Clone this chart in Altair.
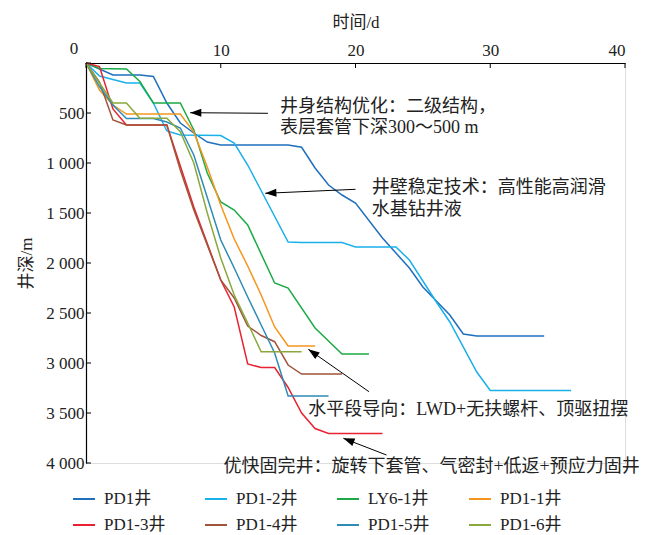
import altair as alt
import pandas as pd

# ---- data ----
wells = ["PD1井", "PD1-2井", "LY6-1井", "PD1-1井", "PD1-3井", "PD1-4井", "PD1-5井", "PD1-6井"]
colors = ["#1f6fbd", "#1ab0ea", "#1aab46", "#f5961c", "#e82230", "#a0553a", "#2e8cb6", "#8aa83c"]

pd1_day = [0, 2, 4, 5, 6, 7, 8, 9, 10, 15, 16, 17, 18, 19, 20, 22, 24, 25, 27, 28, 29, 34]
pd1_dep = [0, 120, 120, 135, 400, 600, 700, 790, 820, 820, 843, 1050, 1220, 1320, 1400, 1750, 2050, 2240, 2520, 2710, 2730, 2730]

pd12_day = [0, 1, 3, 4, 5, 6, 7, 10, 11, 12, 15, 16, 19, 20, 23, 24, 26, 27, 29, 30, 36]
pd12_dep = [0, 130, 200, 200, 400, 680, 720, 725, 800, 1020, 1790, 1795, 1795, 1840, 1840, 1970, 2390, 2590, 3090, 3275, 3275]

ly61_day = [0, 1, 3, 4, 5, 7, 8, 9, 10, 11, 12, 14, 15, 17, 19, 21]
ly61_dep = [0, 55, 60, 185, 400, 400, 670, 1100, 1390, 1470, 1620, 2200, 2250, 2650, 2910, 2910]

pd11_day = [0, 1, 2, 3, 7, 8, 9, 10, 11, 12, 13, 14, 15, 17]
pd11_dep = [0, 270, 420, 510, 510, 690, 1040, 1420, 1760, 2030, 2320, 2640, 2830, 2830]

pd13_day = [0, 1, 2, 3, 6, 7, 8, 10, 11, 12, 13, 14, 15, 16, 17, 18, 22]
pd13_dep = [0, 35, 460, 620, 620, 1030, 1440, 2170, 2440, 3010, 3045, 3045, 3245, 3500, 3655, 3705, 3705]

pd14_day = [0, 1, 2, 3, 6, 7, 8, 10, 11, 12, 13, 14, 15, 16, 19]
pd14_dep = [0, 190, 570, 620, 620, 1070, 1470, 2170, 2350, 2630, 2725, 2787, 3020, 3110, 3110]

pd15_day = [0, 1, 2, 3, 5, 6, 7, 8, 10, 11, 12, 13, 14, 15, 18]
pd15_dep = [0, 235, 420, 555, 555, 590, 650, 920, 1770, 2050, 2340, 2620, 2900, 3330, 3330]

pd16_day = [0, 1, 2, 3, 4, 6, 7, 8, 9, 10, 11, 12, 13, 16]
pd16_dep = [0, 200, 400, 400, 553, 553, 687, 1000, 1500, 1950, 2320, 2600, 2887, 2887]

series_days = [pd1_day, pd12_day, ly61_day, pd11_day, pd13_day, pd14_day, pd15_day, pd16_day]
series_deps = [pd1_dep, pd12_dep, ly61_dep, pd11_dep, pd13_dep, pd14_dep, pd15_dep, pd16_dep]

x_ticks = [0, 10, 20, 30, 40]
y_ticks = [0, 500, 1000, 1500, 2000, 2500, 3000, 3500, 4000]

# annotations: text lines (day, depth, text)
ann_day = [14.4, 14.4, 21.2, 21.2, 16.5, 10.2]
ann_dep = [437, 653, 1253, 1470, 3470, 4037]
ann_text = ["井身结构优化：二级结构，", "表层套管下深300～500 m",
            "井壁稳定技术：高性能高润滑", "水基钻井液",
            "水平段导向：LWD+无扶螺杆、顶驱扭摆",
            "优快固完井：旋转下套管、气密封+低返+预应力固井"]

# arrows: tail -> head (day, depth) and head angle
arr_tail_day = [13.5, 20.0, 21.0, 22.3]
arr_tail_dep = [503, 1263, 3287, 3920]
arr_head_day = [7.73, 13.3, 16.5, 19.1]
arr_head_dep = [497, 1303, 2863, 3753]
arr_angle = [270, 267, 305, 291]

# ---- tables ----
rows = []
for w, ds, vs in zip(wells, series_days, series_deps):
    for d, v in zip(ds, vs):
        rows.append({"well": w, "day": d, "depth": v})
df = pd.DataFrame(rows)

ann_df = pd.DataFrame({"day": ann_day, "depth": ann_dep, "text": ann_text})
arr_df = pd.DataFrame({"day": arr_tail_day, "depth": arr_tail_dep,
                       "hday": arr_head_day, "hdep": arr_head_dep, "angle": arr_angle})
xt_df = pd.DataFrame({"t": x_ticks})
yt_df = pd.DataFrame({"t": y_ticks})

FONT = "'Liberation Serif', 'Noto Sans CJK SC'"

xscale = alt.Scale(domain=[0, 40], nice=False)
yscale = alt.Scale(domain=[0, 4000], reverse=True, nice=False)

xaxis = alt.Axis(orient="top", values=x_ticks, title="时间/d", ticks=False, grid=False,
                 domainColor="black", domainWidth=1.2, labelFont=FONT, labelFontSize=17,
                 labelColor="#222222", labelPadding=4, titleFont=FONT, titleFontSize=17,
                 titleFontWeight="normal", titleColor="#222222", titlePadding=10,
                 labelExpr="datum.value == 0 ? '' : datum.label")
yaxis = alt.Axis(values=y_ticks, title="井深/m", ticks=False, grid=False,
                 domainColor="black", domainWidth=1.2, labelFont=FONT, labelFontSize=17,
                 labelColor="#222222", labelPadding=2, titleFont=FONT, titleFontSize=17,
                 titleFontWeight="normal", titleColor="#222222", titlePadding=10,
                 labelExpr="datum.value == 0 ? '' : replace(format(datum.value, ','), ',', ' ')")

lines = alt.Chart(df).mark_line(strokeWidth=1.5).encode(
    x=alt.X("day:Q", scale=xscale, axis=xaxis),
    y=alt.Y("depth:Q", scale=yscale, axis=yaxis),
    color=alt.Color("well:N", scale=alt.Scale(domain=wells, range=colors), sort=wells,
                    legend=alt.Legend(title=None, orient="none", legendX=-14, legendY=424,
                                      direction="horizontal", columns=4, gridAlign="all",
                                      columnPadding=35, rowPadding=6, symbolType="stroke",
                                      symbolSize=484, symbolStrokeWidth=2, labelOffset=8,
                                      labelFont=FONT, labelFontSize=17, labelColor="#222222",
                                      labelLimit=200)),
    order="day:Q",
)

origin_label = alt.Chart(pd.DataFrame({"t": [0]})).mark_text(
    font=FONT, fontSize=17, color="#222222", align="center", baseline="bottom", dx=-12, dy=-5
).encode(x=alt.X("t:Q", scale=xscale), y=alt.value(0), text=alt.Text("t:Q"))

xticks = alt.Chart(xt_df).mark_rule(color="black", strokeWidth=1).encode(
    x=alt.X("t:Q", scale=xscale), y=alt.value(0), y2=alt.value(5))
yticks = alt.Chart(yt_df).mark_rule(color="black", strokeWidth=1).encode(
    y=alt.Y("t:Q", scale=yscale), x=alt.value(0), x2=alt.value(5))

texts = alt.Chart(ann_df).mark_text(
    font=FONT, fontSize=18, color="#222222", align="left", baseline="middle"
).encode(x=alt.X("day:Q", scale=xscale), y=alt.Y("depth:Q", scale=yscale), text="text:N")

arrow_lines = alt.Chart(arr_df).mark_rule(color="black", strokeWidth=1).encode(
    x=alt.X("day:Q", scale=xscale), y=alt.Y("depth:Q", scale=yscale),
    x2="hday:Q", y2="hdep:Q")

arrow_heads = alt.Chart(arr_df).mark_point(
    shape="M0,0 L0.36,1 L-0.36,1 Z", filled=True, color="black", opacity=1, size=500
).encode(x=alt.X("hday:Q", scale=xscale), y=alt.Y("hdep:Q", scale=yscale),
         angle=alt.Angle("angle:Q", scale=None))

chart = alt.layer(lines, xticks, yticks, origin_label, texts, arrow_lines, arrow_heads).properties(
    width=539, height=400,
    autosize=alt.AutoSizeParams(type="none"),
    padding={"left": 78, "top": 55, "right": 21, "bottom": 72},
).configure_view(stroke=None).configure(background="white")

chart.save("out.html", embed_options={"renderer": "svg", "actions": False})
